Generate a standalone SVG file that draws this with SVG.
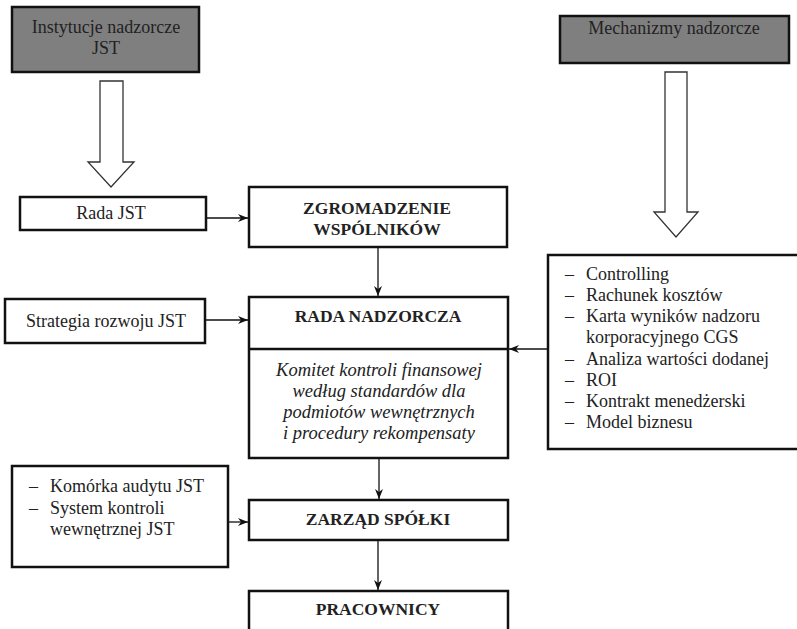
<svg xmlns="http://www.w3.org/2000/svg" width="797" height="629" viewBox="0 0 797 629">
<style>
.box{fill:#fff;stroke:#111;stroke-width:2.5}
.gray{fill:#7f7f7f;stroke:#111;stroke-width:2.5}
.hollow{fill:#fff;stroke:#333;stroke-width:1.3;stroke-linejoin:miter}
text{font-family:'Liberation Serif','Tinos','Times New Roman','DejaVu Serif',serif;font-size:18px;fill:#222}
.c{text-anchor:middle}
.b{font-weight:bold;font-size:17.5px}
.i{font-style:italic;font-size:18.5px}
.con{stroke:#111;stroke-width:1.3;fill:none;marker-end:url(#ah)}
</style>
<defs>
<marker id="ah" markerUnits="userSpaceOnUse" viewBox="0 0 10 10" refX="10" refY="5" markerWidth="10" markerHeight="10" orient="auto">
<path d="M0,1 L10,5 L0,9 L3,5 z" fill="#111"/>
</marker>
</defs>
<rect width="797" height="629" fill="#fff"/>

<g id="instytucje">
<rect class="gray" x="12" y="7" width="187" height="65"/>
<text class="c" x="106" y="33">Instytucje nadzorcze</text>
<text class="c" x="106" y="54">JST</text>
</g>
<g id="arrow-left-hollow">
<polygon class="hollow" points="100,81 123,81 123,162 134,162 111,187 88,162 100,162"/>
</g>
<g id="mechanizmy">
<rect class="gray" x="560" y="16" width="229" height="47"/>
<text class="c" x="674" y="34">Mechanizmy nadzorcze</text>
</g>
<g id="arrow-right-hollow">
<polygon class="hollow" points="665,72 687,72 687,212 698,212 676,237 654,212 665,212"/>
</g>
<g id="rada-jst">
<rect class="box" x="20" y="197" width="186" height="33"/>
<text class="c" x="111" y="219">Rada JST</text>
</g>
<g id="zgromadzenie">
<rect class="box" x="249" y="187" width="258" height="60"/>
<text class="c b" x="377" y="214">ZGROMADZENIE</text>
<text class="c b" x="377" y="235">WSPÓLNIKÓW</text>
</g>
<g id="strategia">
<rect class="box" x="5" y="299" width="200" height="44"/>
<text class="c" x="106" y="327">Strategia rozwoju JST</text>
</g>
<g id="rada-nadzorcza">
<rect class="box" x="249" y="297" width="259" height="161"/>
<line x1="249" y1="349" x2="508" y2="349" stroke="#111" stroke-width="2.5"/>
<text class="c b" x="378" y="322">RADA NADZORCZA</text>
<text class="c i" x="379" y="376">Komitet kontroli finansowej</text>
<text class="c i" x="379" y="397">według standardów dla</text>
<text class="c i" x="379" y="418">podmiotów wewnętrznych</text>
<text class="c i" x="379" y="439">i procedury rekompensaty</text>
</g>
<g id="mechanizmy-lista">
<rect class="box" x="548" y="255" width="262" height="194"/>
<text x="565" y="280">–</text><text x="586" y="280">Controlling</text>
<text x="565" y="301">–</text><text x="586" y="301">Rachunek kosztów</text>
<text x="565" y="322">–</text><text x="586" y="322">Karta wyników nadzoru</text>
<text x="586" y="343">korporacyjnego CGS</text>
<text x="565" y="365">–</text><text x="586" y="365">Analiza wartości dodanej</text>
<text x="565" y="386">–</text><text x="586" y="386">ROI</text>
<text x="565" y="407">–</text><text x="586" y="407">Kontrakt menedżerski</text>
<text x="565" y="428">–</text><text x="586" y="428">Model biznesu</text>
</g>
<g id="komorka">
<rect class="box" x="12" y="466" width="216" height="101"/>
<text x="29" y="492">–</text><text x="50" y="492">Komórka audytu JST</text>
<text x="29" y="514">–</text><text x="50" y="514">System kontroli</text>
<text x="50" y="535">wewnętrznej JST</text>
</g>
<g id="zarzad">
<rect class="box" x="249" y="500" width="259" height="40"/>
<text class="c b" x="378" y="525">ZARZĄD SPÓŁKI</text>
</g>
<g id="pracownicy">
<rect class="box" x="249" y="591" width="259" height="60"/>
<text class="c b" x="378" y="615">PRACOWNICY</text>
</g>

<g id="connectors">
<line class="con" x1="206" y1="218" x2="248" y2="218"/>
<line class="con" x1="378" y1="248" x2="378" y2="296"/>
<line class="con" x1="205" y1="320" x2="248" y2="320"/>
<line class="con" x1="547" y1="349" x2="509" y2="349"/>
<line class="con" x1="379" y1="459" x2="379" y2="499"/>
<line class="con" x1="228" y1="522" x2="248" y2="522"/>
<line class="con" x1="378" y1="541" x2="378" y2="590"/>
</g>
</svg>
